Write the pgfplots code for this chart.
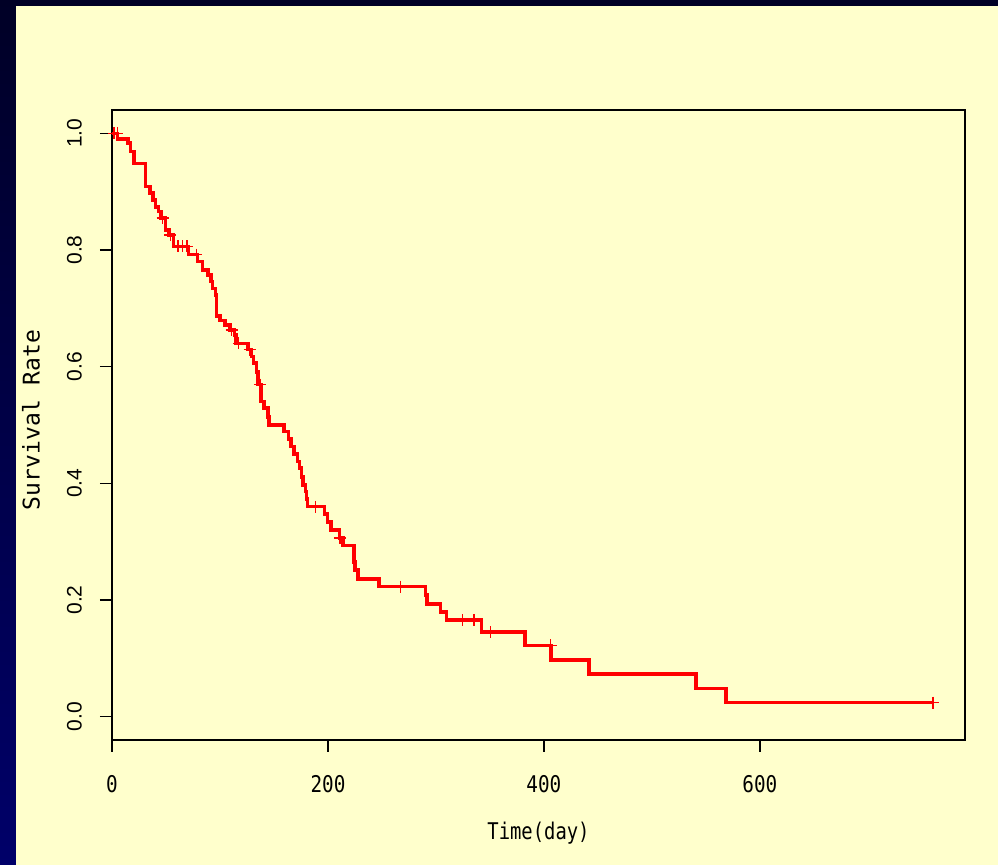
\documentclass[border=0pt]{standalone}
\usepackage{pgfplots}
\pgfplotsset{compat=1.18}
\usepackage{fontspec}
\usepackage{graphicx}
\newfontfamily\gothic{DejaVu Sans Mono}
\newfontfamily\arialf{Liberation Sans}
\definecolor{cream}{RGB}{255,255,204}
\definecolor{navytop}{RGB}{0,0,38}
\definecolor{navybot}{RGB}{0,0,105}
\begin{document}
\begin{tikzpicture}[x=1bp,y=1bp]
\fill[navytop] (0,0) rectangle (998,865);
\shade[top color=navytop, bottom color=navybot] (0,0) rectangle (16,865);
\fill[cream] (16,0) rectangle (998,859);
\begin{axis}[
  at={(112bp,125bp)}, anchor=south west,
  width=853bp, height=630bp, scale only axis,
  xmin=0, xmax=790, ymin=-0.04, ymax=1.04,
  axis line style={line width=1.4bp, black},
  tick align=outside, major tick length=12bp,
  xtick pos=bottom, ytick pos=left,
  every tick/.style={line width=1.4bp, black},
  xtick={0,200,400,600},
  xticklabels={\scalebox{0.84}[1]{0},\scalebox{0.84}[1]{200},\scalebox{0.84}[1]{400},\scalebox{0.84}[1]{600}},
  ytick={0,0.2,0.4,0.6,0.8,1.0},
  yticklabels={0.0,0.2,0.4,0.6,0.8,1.0},
  xticklabel style={font=\gothic\fontsize{23bp}{27bp}\selectfont, anchor=north, inner sep=0pt, yshift=-23bp},
  yticklabel style={font=\arialf\fontsize{21bp}{25bp}\selectfont, rotate=90, anchor=south, inner sep=0pt, yshift=18bp},
  every axis x label/.style={at={(axis description cs:0.5,0)}, anchor=center, yshift=-93bp, font=\gothic\fontsize{23bp}{27bp}\selectfont},
  every axis y label/.style={at={(axis description cs:0,0.5)}, rotate=90, anchor=center, yshift=81bp, xshift=5bp, font=\gothic\fontsize{23bp}{27bp}\selectfont},
  xlabel={\scalebox{0.82}[1]{Time(day)}},
  ylabel={Survival Rate},
  axis background/.style={fill=cream},
]
\addplot[const plot, color=red, line width=3.5bp, no marks] coordinates {
(0,1.0) (5,0.990) (15,0.983) (17,0.969) (20.5,0.948) (31,0.909) (35,0.898)
(38,0.886) (40.5,0.874) (43,0.866) (45.5,0.855) (49.5,0.834) (53,0.826)
(57,0.806) (71,0.792) (79.4,0.780) (84,0.766) (88.7,0.757) (91.8,0.746)
(93.3,0.734) (96,0.723) (97,0.687) (100.2,0.679) (104.8,0.6715) (109.5,0.663)
(113.5,0.654) (115,0.640) (125.8,0.629) (129,0.617) (131,0.606) (133.6,0.591)
(135,0.569) (138.2,0.540) (140.6,0.529) (144.3,0.514) (145.3,0.500)
(159.2,0.4886) (163.5,0.4756) (166,0.463) (168.5,0.450) (171.6,0.437)
(173.8,0.426) (175.5,0.411) (176.8,0.397) (179,0.386) (180,0.373) (180.9,0.360)
(197,0.3475) (199.5,0.334) (203,0.320) (210.8,0.306) (214,0.293) (224,0.265)
(225,0.2515) (227.9,0.236) (247.3,0.223) (290.4,0.2086) (291.8,0.193)
(304.3,0.179) (309.8,0.1658) (342.3,0.145) (382.5,0.122) (406.5,0.097)
(441.8,0.073) (540.8,0.048) (568.6,0.024) (760.3,0.024)
};
\addplot[only marks, mark=+, mark size=6bp, mark options={line width=1.4bp, color=red}] coordinates {
(2,1.0) (5,1.0) (47,0.855) (54,0.826) (61,0.806) (65.5,0.806) (69.5,0.806)
(78,0.792) (110.7,0.663) (117.4,0.640) (127.4,0.629) (137,0.569) (188.3,0.360)
(211,0.306) (267.2,0.223) (324.7,0.1658) (335.4,0.1658) (350.6,0.145)
(406.3,0.122) (760.3,0.024)
};
\end{axis}
\end{tikzpicture}
\end{document}
